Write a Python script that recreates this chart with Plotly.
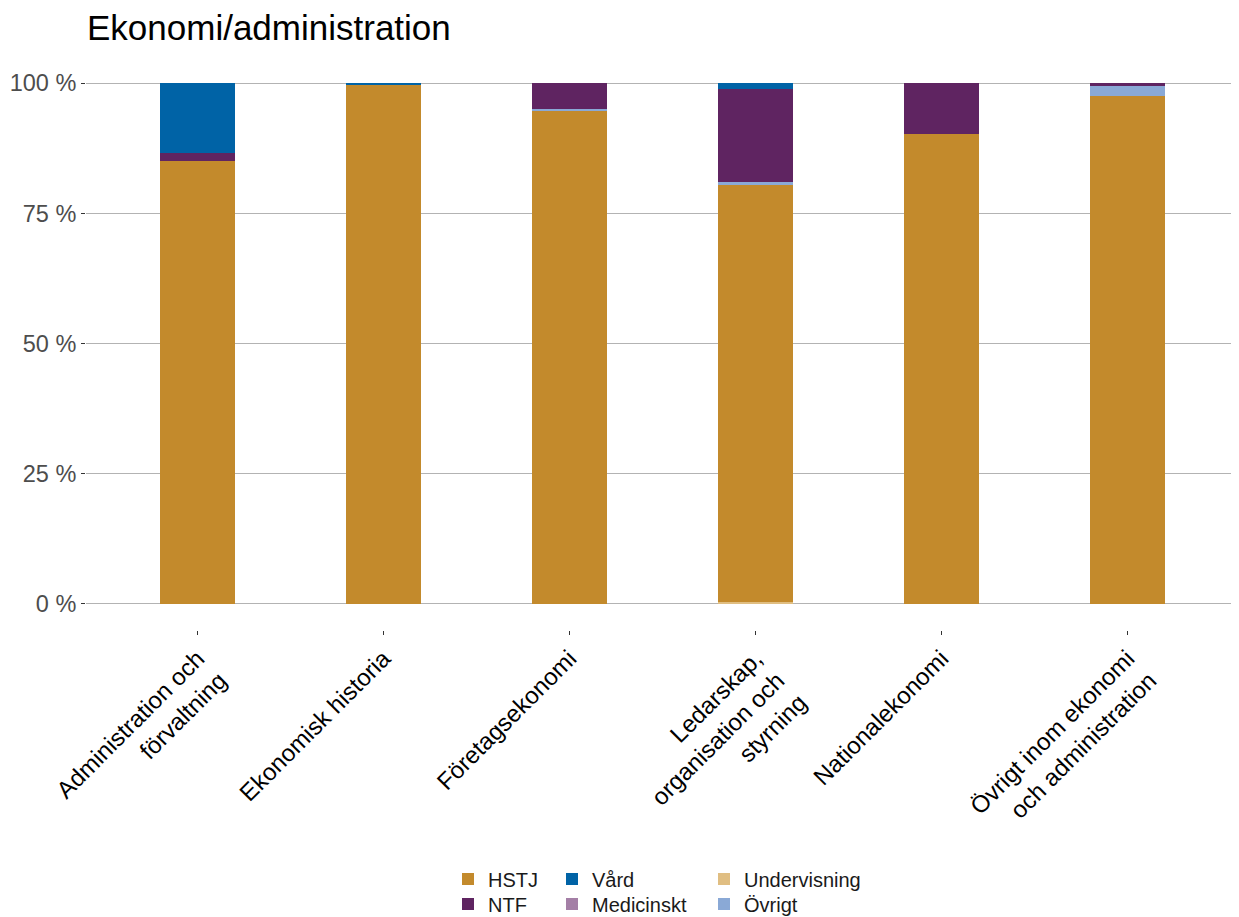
import plotly.graph_objects as go

categories = [
    "Administration och<br>förvaltning",
    "Ekonomisk historia",
    "Företagsekonomi",
    "Ledarskap,<br>organisation och<br>styrning",
    "Nationalekonomi",
    "Övrigt inom ekonomi<br>och administration",
]

# shares in percent, per category
undervisning = [0.0, 0.0, 0.0, 0.3, 0.0, 0.0]
hstj = [85.1, 99.6, 94.7, 80.1, 90.2, 97.6]
ovrigt = [0.0, 0.0, 0.4, 0.6, 0.0, 1.9]
medicinskt = [0.0, 0.0, 0.0, 0.0, 0.0, 0.0]
ntf = [1.5, 0.0, 4.9, 17.8, 9.8, 0.5]
vard = [13.4, 0.4, 0.0, 1.2, 0.0, 0.0]

y_ticks = [0, 25, 50, 75, 100]
y_tick_labels = ["0 %", "25 %", "50 %", "75 %", "100 %"]

# (name, values, colour, legend id) - stacked bottom to top
series = [
    ("Undervisning", undervisning, "#E0BE82", "legend5"),
    ("HSTJ", hstj, "#C38A2C", "legend"),
    ("Övrigt", ovrigt, "#8AA9D6", "legend6"),
    ("Medicinskt", medicinskt, "#A47FA6", "legend4"),
    ("NTF", ntf, "#5F2461", "legend2"),
    ("Vård", vard, "#0063A6", "legend3"),
]

# page has an 8px body margin, so the figure is a bit smaller than the window
W, H = 1231, 909

fig = go.Figure()
for name, vals, col, leg in series:
    fig.add_trace(
        go.Bar(
            x=categories,
            y=vals,
            name=name,
            marker_color=col,
            marker_line_width=0,
            width=0.4,
            legend=leg,
        )
    )


# one legend box per entry, so the 3x2 grid can be laid out column-wise
def legend_at(x, y):
    return dict(
        orientation="v",
        yanchor="middle",
        y=1 - y / H,
        yref="container",
        xref="container",
        xanchor="left",
        x=x / W,
        font=dict(family="Liberation Sans, Arial", size=20, color="#1a1a1a"),
        bgcolor="rgba(0,0,0,0)",
        itemwidth=30,
    )


fig.update_layout(
    width=W,
    height=H,
    barmode="stack",
    template="simple_white",
    plot_bgcolor="white",
    paper_bgcolor="white",
    font=dict(family="Liberation Sans, Arial", size=20, color="#1a1a1a"),
    title=dict(
        text="Ekonomi/administration",
        x=79 / W,
        xanchor="left",
        xref="container",
        y=1 - 20 / H,
        yanchor="middle",
        yref="container",
        font=dict(size=35, color="black"),
    ),
    margin=dict(l=78, r=0, t=49, b=287, autoexpand=False),
    showlegend=True,
    legend=legend_at(440, 871),
    legend2=legend_at(440, 896),
    legend3=legend_at(544, 871),
    legend4=legend_at(544, 896),
    legend5=legend_at(696, 871),
    legend6=legend_at(696, 896),
)

fig.update_xaxes(
    type="category",
    range=[-0.6, 5.6],
    showline=False,
    ticks="outside",
    ticklen=4,
    tickcolor="#333333",
    tickangle=-45,
    tickfont=dict(size=24, color="black"),
    showgrid=False,
    automargin=False,
)

fig.update_yaxes(
    range=[-5, 105],
    tickvals=y_ticks,
    ticktext=y_tick_labels,
    showline=False,
    ticks="outside",
    ticklen=4,
    tickcolor="#333333",
    tickfont=dict(size=23.5, color="#4d4d4d"),
    showgrid=True,
    gridcolor="#b3b3b3",
    gridwidth=1.2,
    zeroline=False,
    automargin=False,
)

fig.write_html("out.html")
